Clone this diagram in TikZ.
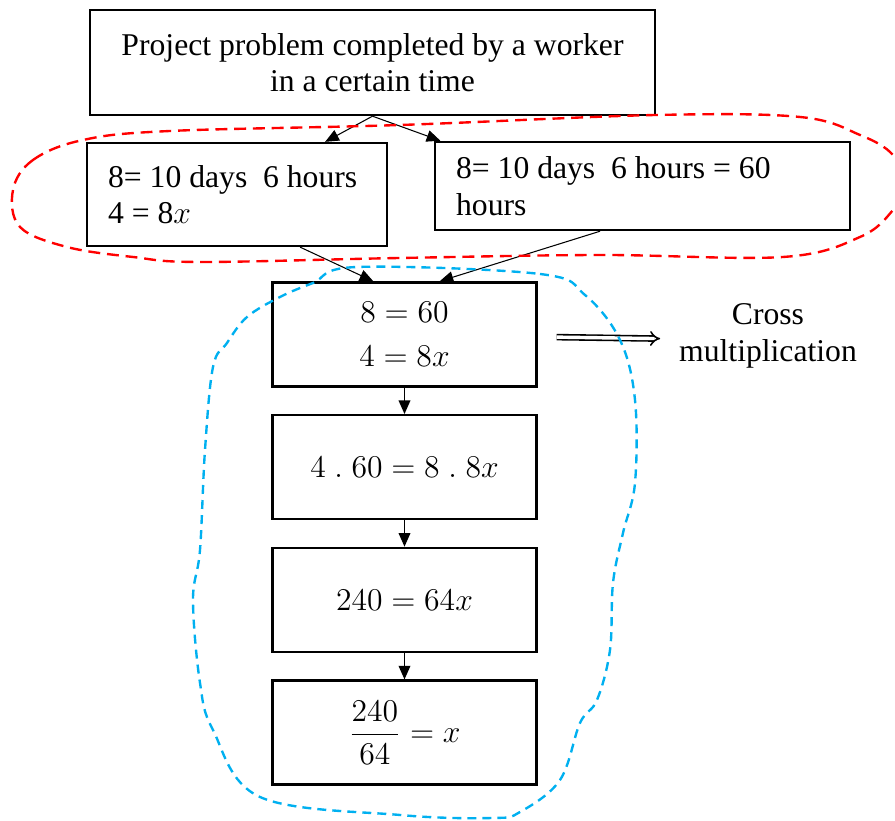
\documentclass[tikz,border=0pt]{standalone}
\usepackage{fontspec}
\setmainfont{Liberation Serif}
\usepackage{amsmath}
\usetikzlibrary{arrows.meta,positioning}
\definecolor{RingRed}{HTML}{FF0000}
\definecolor{RingBlue}{HTML}{00B0F0}

\begin{document}
\begin{tikzpicture}[
  x=0.379pt,y=-0.379pt,
  node distance=10pt,
  box/.style={draw,line width=0.9pt,align=center,font=\fontsize{12}{13.8}\selectfont},
  leftbox/.style={box,align=flush left,inner xsep=8pt},
  stepbox/.style={box,minimum width=100pt,minimum height=39.4pt,font=\fontsize{13}{14.5}\selectfont},
  arr/.style={-{Triangle[length=5.2pt,width=4.4pt]},line width=0.4pt},
  ringline/.style={line width=0.9pt,dash pattern=on 4.5pt off 2.6pt}
]
\useasboundingbox (0,0) rectangle (895,821);
\clip (0,0) rectangle (895,821);
% top row
\node[box,minimum width=214.1pt,minimum height=39.8pt] (task) at (372.5,62.5)
  {Project problem completed by a worker\\in a certain time};
\node[leftbox,text width=97.7pt,minimum height=39pt] (given) at (237,194.5)
  {8= 10 days~ 6 hours\\4 = 8$x$};
\node[leftbox,text width=141.3pt,minimum height=33.4pt] (convert) at (642.5,186)
  {8= 10 days~ 6 hours = 60\\hours};
% solution steps
\node[stepbox] (s1) at (404.5,334.5) {$8 = 60$\\[2pt]$4 = 8x$};
\node[stepbox,below=of s1] (s2) {$4\ .\ 60 = 8\ .\ 8x$};
\node[stepbox,below=of s2] (s3) {$240 = 64x$};
\node[stepbox,below=of s3] (s4) {$\dfrac{240}{64} = x$};
\node[align=center,inner sep=2pt,font=\fontsize{12}{13.8}\selectfont] (cross) at (768,336)
  {Cross\\multiplication};
% connectors
\draw[arr] (task.south) -- ([xshift=33.4pt]given.north);
\draw[arr] (task.south) -- ([xshift=2.5pt]convert.north west);
\draw[arr] ([xshift=23.9pt]given.south) -- ([xshift=-11.8pt]s1.north);
\draw[arr] ([xshift=-16.1pt]convert.south) -- ([xshift=13.3pt]s1.north);
\draw[arr,line width=0.7pt] (s1) -- (s2);
\draw[arr,line width=0.7pt] (s2) -- (s3);
\draw[arr,line width=0.7pt] (s3) -- (s4);
\draw[double,double distance=1.3pt,line width=0.6pt,-{Implies}]
  ([xshift=7.2pt,yshift=-1pt]s1.east) -- ([xshift=-5pt,yshift=-1pt]cross.west);
% dashed rings
\draw[ringline,RingRed] plot[smooth cycle,tension=0.6] coordinates {
  (13,190) (33,160) (83,140) (170,131) (400,125) (656,115) (800,117)
  (860,135) (893,155) (905,185) (893,210) (860,237) (783,257) (600,255)
  (400,258) (200,262) (133,257) (67,247) (20,227)};
\draw[ringline,RingBlue,dash pattern=on 3.4pt off 2.3pt] plot[smooth cycle,tension=0.6] coordinates {
  (357,267) (540,274) (585,295) (620,340) (635,400) (635,483) (623,533)
  (613,583) (610,650) (597,700) (580,723) (560,780) (520,812) (493,818)
  (400,815) (260,797) (213,730) (200,683) (193,600) (200,550) (205,450)
  (213,367) (227,343) (247,317) (280,297) (313,283)};
\end{tikzpicture}
\end{document}
